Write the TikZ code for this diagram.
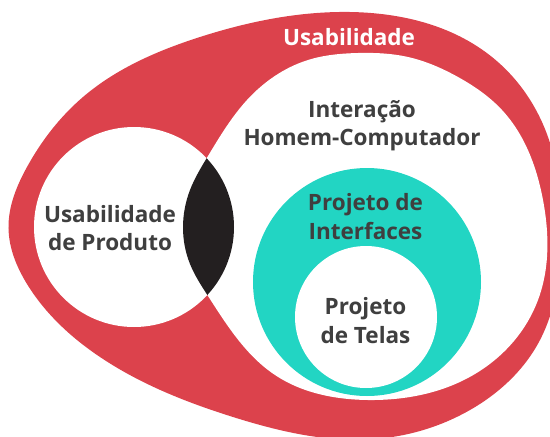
\documentclass[tikz,border=0pt]{standalone}
\usepackage{fontspec}
\setmainfont{Open Sans}
\usetikzlibrary{hobby}
\definecolor{redband}{HTML}{DC424C}
\definecolor{turq}{HTML}{22D5C3}
\definecolor{lensdark}{HTML}{231F20}
\definecolor{txtgray}{HTML}{3F3F3F}
\tikzset{
  lbl/.style={font=\bfseries\fontsize{22.5}{28}\selectfont, text=txtgray, anchor=base, inner sep=0pt},
  lblw/.style={lbl, text=white}
}
\begin{document}
\begin{tikzpicture}[x=1pt,y=-1pt]
\useasboundingbox (0,0) rectangle (550,437);
\clip (0,0) rectangle (550,437);
% outer red blob
\fill[redband, use Hobby shortcut, closed=true]
  (8.5,228) .. (27,167) .. (83,97) .. (200,37) .. (350,12) .. (492,57) .. (550,143)
  .. (561,230) .. (540,340) .. (470,410) .. (375,439) .. (233,417) .. (100,357) .. (27,284);
% big white shape (HCI)
\fill[white, use Hobby shortcut, closed=true]
  (183,227) .. (190,190) .. (208,156) .. (247,100) .. (308,60) .. (358,53) .. (408,57)
  .. (458,77) .. (502,110) .. (543,200) .. (538,300) .. (475,374) .. (368,400)
  .. (275,375) .. (208,296) .. (190,264);
% small circle (Usabilidade de Produto)
\fill[white] (134,227) circle (100pt);
% lens
\begin{scope}
  \clip (134,227) circle (100pt);
  \fill[lensdark, use Hobby shortcut, closed=true]
  (183,227) .. (190,190) .. (208,156) .. (247,100) .. (308,60) .. (358,53) .. (408,57)
  .. (458,77) .. (502,110) .. (543,200) .. (538,300) .. (475,374) .. (368,400)
  .. (275,375) .. (208,296) .. (190,264);
\end{scope}
% Projeto de Interfaces
\fill[turq] (367,282) circle (114pt);
% Projeto de Telas
\fill[white] (366,317) circle (71pt);
% texts
\node[lblw] (usab) at (349,45) {Usabilidade};
\node[lbl] (ihc1) at (362,117) {Interação};
\node[lbl] (ihc2) at (362,145) {Homem-Computador};
\node[lbl] (up1) at (110,222) {Usabilidade};
\node[lbl] (up2) at (110,250) {de Produto};
\node[lbl] (pi1) at (365.5,210) {Projeto de};
\node[lbl] (pi2) at (365.5,239) {Interfaces};
\node[lbl] (pt1) at (365.5,314) {Projeto};
\node[lbl] (pt2) at (365.5,343) {de Telas};
\end{tikzpicture}
\end{document}
